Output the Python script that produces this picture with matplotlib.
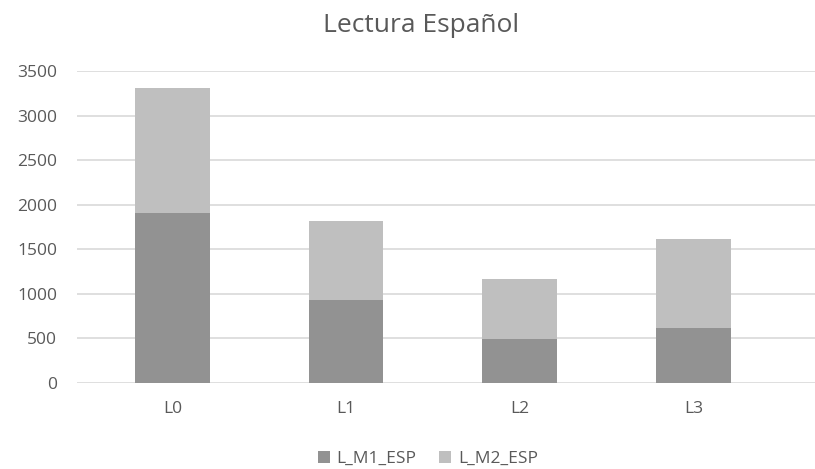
import matplotlib
matplotlib.use("Agg")
import matplotlib.pyplot as plt
import numpy as np

categories = ["L0", "L1", "L2", "L3"]
m1_values = [1904, 927, 492, 620]
m2_values = [1405, 892, 675, 997]
series_names = ["L_M1_ESP", "L_M2_ESP"]
yticks = [0, 500, 1000, 1500, 2000, 2500, 3000, 3500]

plt.rcParams['font.family'] = ['Open Sans', 'DejaVu Sans']
W, H = 815, 469
fig = plt.figure(figsize=(W/100, H/100), dpi=100)
# axes in pixels
left, right, top, bottom = 77, 815, 71.3, 382.7
ax = fig.add_axes([left/W, 1-bottom/H, (right-left)/W, (bottom-top)/H])

x = np.arange(len(categories))
c1, c2 = "#929292", "#bfbfbf"
ax.bar(x, m1_values, width=0.43, color=c1, label=series_names[0], zorder=3)
ax.bar(x, m2_values, width=0.43, bottom=m1_values, color=c2, label=series_names[1], zorder=3)

ax.set_xlim(-0.55, 3.70)
ax.set_ylim(0, 3500)
ax.set_yticks(yticks)
ax.set_xticks(x)
ax.set_xticklabels(categories)
ax.grid(axis='y', color="#d9d9d9", linewidth=1.2, zorder=0)
for s in ax.spines.values():
    s.set_visible(False)
ax.tick_params(axis='both', length=0, colors="#595959", labelsize=12.5)
ax.tick_params(axis='y', pad=14.4)
ax.tick_params(axis='x', pad=13)

fig.text(421/W, 1-25/H, "Lectura Español", ha='center', va='center', fontsize=19, color="#595959")
leg = fig.legend(loc='center', bbox_to_anchor=(428/W, 1-459/H), ncol=2, frameon=False,
                 fontsize=12.5, handlelength=0.7, handleheight=0.7, handletextpad=0.4,
                 columnspacing=1.3)
for t in leg.get_texts():
    t.set_color("#595959")
fig.savefig("out.png", dpi=100)
